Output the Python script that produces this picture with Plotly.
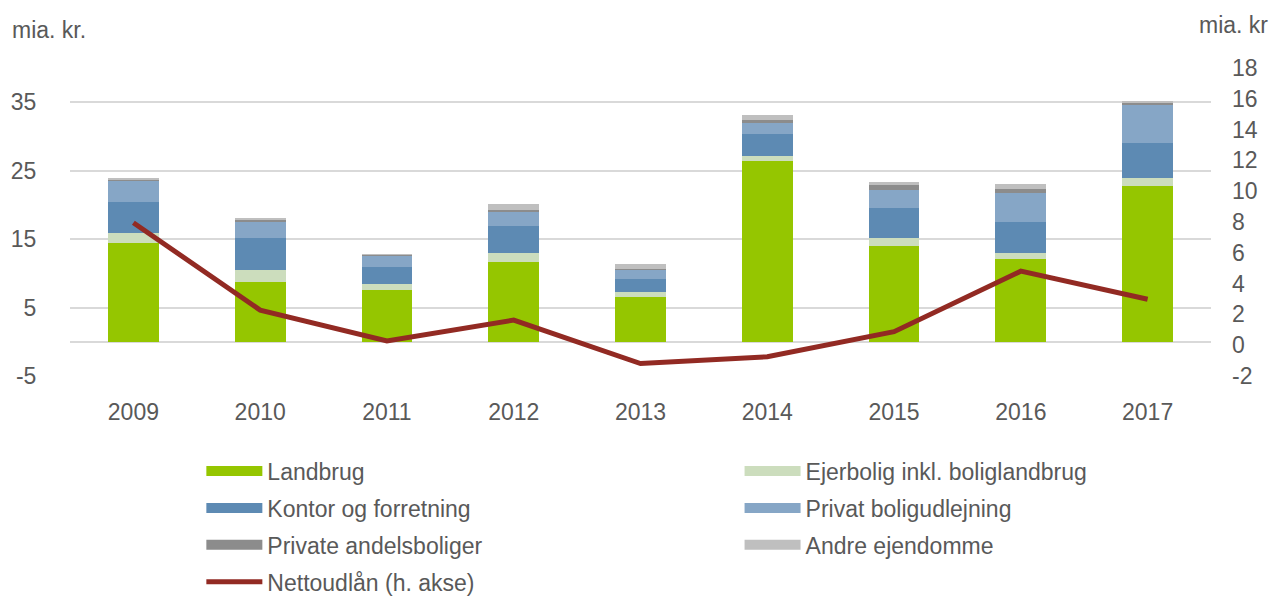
import plotly.graph_objects as go

years = ["2009", "2010", "2011", "2012", "2013", "2014", "2015", "2016", "2017"]

landbrug = [14.5, 8.8, 7.6, 11.7, 6.5, 26.4, 14.0, 12.05, 22.8]
ejerbolig = [1.42, 1.7, 0.83, 1.27, 0.83, 0.78, 1.22, 0.88, 1.12]
kontor = [4.43, 4.63, 2.44, 4.0, 1.9, 3.12, 4.39, 4.53, 5.07]
privat_udlejning = [3.07, 2.4, 1.6, 2.0, 1.37, 1.6, 2.63, 4.24, 5.56]
andelsboliger = [0.35, 0.4, 0.3, 0.29, 0.1, 0.49, 0.63, 0.68, 0.39]
andre = [0.05, 0.05, 0.05, 0.88, 0.63, 0.73, 0.49, 0.63, 0.24]

nettoudlaan = [7.95, 2.28, 0.27, 1.63, -1.19, -0.75, 0.88, 4.81, 2.98]

left_ticks = [-5, 5, 15, 25, 35]
right_ticks = [-2, 0, 2, 4, 6, 8, 10, 12, 14, 16, 18]

font_color = "#595959"
grid_color = "#D9D9D9"
fnt = "Liberation Sans, Arial"

# name, values, colour, legend column
bar_series = [
    ("Landbrug", landbrug, "#95C600", "legend"),
    ("Ejerbolig inkl. boliglandbrug", ejerbolig, "#CCDDBD", "legend2"),
    ("Kontor og forretning", kontor, "#5D8AB3", "legend"),
    ("Privat boligudlejning", privat_udlejning, "#86A6C6", "legend2"),
    ("Private andelsboliger", andelsboliger, "#8C8C8C", "legend"),
    ("Andre ejendomme", andre, "#BFBFBF", "legend2"),
]

fig = go.Figure()
for name, vals, col, leg in bar_series:
    fig.add_trace(go.Bar(x=years, y=vals, name=name, marker_color=col,
                         marker_line_width=0, showlegend=False, legendgroup=name))

fig.add_trace(go.Scatter(x=years, y=nettoudlaan, name="Nettoudlån (h. akse)",
                         mode="lines", line=dict(color="#922A23", width=5),
                         yaxis="y2", showlegend=False, legendgroup="netto"))

# legend entries: wide swatches like the original
for name, vals, col, leg in bar_series:
    fig.add_trace(go.Scatter(x=[None], y=[None], mode="lines", name=name,
                             line=dict(color=col, width=17), legend=leg,
                             legendgroup=name))
fig.add_trace(go.Scatter(x=[None], y=[None], mode="lines", name="Nettoudlån (h. akse)",
                         line=dict(color="#922A23", width=5), legend="legend",
                         legendgroup="netto"))


def leg(x):
    return dict(orientation="v", xref="container", yref="container",
                x=x, xanchor="left", y=0.247, yanchor="top",
                itemwidth=56, tracegroupgap=4, traceorder="grouped",
                font=dict(family=fnt, size=23, color=font_color),
                bgcolor="rgba(0,0,0,0)")


fig.update_layout(
    width=1276, height=597,
    margin=dict(l=70, r=65, t=68, b=221, autoexpand=False),
    plot_bgcolor="white", paper_bgcolor="white",
    barmode="stack", bargap=0.6,
    font=dict(family=fnt, size=23, color=font_color),
    xaxis=dict(showgrid=False, showline=False, ticks="outside", ticklen=15,
               tickcolor="rgba(0,0,0,0)", automargin=False),
    yaxis=dict(range=[-5, 40], tickvals=left_ticks,
               ticktext=[str(v) for v in left_ticks], showgrid=True,
               gridcolor=grid_color, gridwidth=2, zeroline=True,
               zerolinecolor=grid_color, zerolinewidth=2, automargin=False,
               ticks="outside", ticklen=28, tickcolor="rgba(0,0,0,0)"),
    yaxis2=dict(range=[-2, 18], tickvals=right_ticks,
                ticktext=[str(v) for v in right_ticks], overlaying="y", side="right",
                showgrid=False, zeroline=False, ticks="", ticklabelstandoff=20,
                automargin=False),
    legend=leg(0.1578),
    legend2=leg(0.5796),
    annotations=[
        dict(text="mia. kr.", xref="paper", yref="paper", x=-0.0526, y=1.123,
             xanchor="left", yanchor="middle", showarrow=False,
             font=dict(size=23, color=font_color)),
        dict(text="mia. kr", xref="paper", yref="paper", x=1.0517, y=1.14,
             xanchor="right", yanchor="middle", showarrow=False,
             font=dict(size=23, color=font_color)),
    ],
)

fig.write_html("out.html", config={"displayModeBar": False},
               post_script="document.body.style.margin = '0';")
